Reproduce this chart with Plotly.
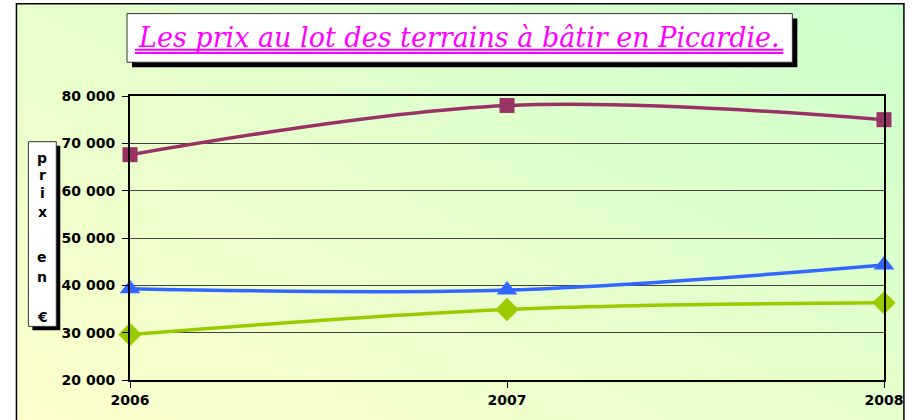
import base64
import plotly.graph_objects as go

years = [2006, 2007, 2008]
serie_violet = [67600, 78000, 75000]
serie_bleu = [39300, 39000, 44300]
serie_vert = [29600, 34900, 36300]
y_ticks = [20000, 30000, 40000, 50000, 60000, 70000, 80000]
title_text = "Les prix au lot des terrains à bâtir en Picardie."
ylabel_letters = ["p", "r", "i", "x", "e", "n", "€"]

W, H = 915, 420
L, R, T, B = 130, 887, 96, 382


def px(x):
    return (x - L) / (R - L)


def py(y):
    return (B - y) / (B - T)


fig = go.Figure()
fig.add_trace(go.Scatter(x=years, y=serie_violet, mode="lines+markers",
                         line=dict(color="#993366", width=3.5, shape="spline"),
                         marker=dict(symbol="square", size=15, color="#993366"),
                         cliponaxis=False, showlegend=False))
fig.add_trace(go.Scatter(x=years, y=serie_bleu, mode="lines+markers",
                         line=dict(color="#3366ff", width=3.5, shape="spline"),
                         marker=dict(symbol="triangle-up", size=18, color="#3366ff"),
                         cliponaxis=False, showlegend=False))
fig.add_trace(go.Scatter(x=years, y=serie_vert, mode="lines+markers",
                         line=dict(color="#99cc00", width=3.5, shape="spline"),
                         marker=dict(symbol="diamond", size=18, color="#99cc00"),
                         cliponaxis=False, showlegend=False))

svg = ('<svg xmlns="http://www.w3.org/2000/svg" width="100" height="100" preserveAspectRatio="none">'
       '<defs><linearGradient id="g" x1="0" y1="1" x2="1" y2="0">'
       '<stop offset="0" stop-color="#ffffcc"/><stop offset="1" stop-color="#ccffcc"/>'
       '</linearGradient></defs><rect width="100" height="100" fill="url(#g)"/></svg>')
src = "data:image/svg+xml;base64," + base64.b64encode(svg.encode()).decode()

fx0, fx1, fy0, fy1 = 16, 907, 3, 440
fig.add_layout_image(dict(source=src, xref="paper", yref="paper",
                          x=px(fx0), y=py(fy0), sizex=px(fx1) - px(fx0), sizey=py(fy0) - py(fy1),
                          xanchor="left", yanchor="top", sizing="stretch", layer="below"))

shapes = []
# outer frame
shapes.append(dict(type="rect", xref="paper", yref="paper", x0=px(fx0), x1=px(fx1), y0=py(fy0), y1=py(fy1),
                   line=dict(color="black", width=1.5), fillcolor="rgba(0,0,0,0)", layer="below"))
# title box
shapes.append(dict(type="rect", xref="paper", yref="paper", x0=px(132), x1=px(800), y0=py(18), y1=py(67),
                   line=dict(width=0), fillcolor="black"))
shapes.append(dict(type="rect", xref="paper", yref="paper", x0=px(127), x1=px(795), y0=py(13), y1=py(62),
                   line=dict(color="#333333", width=1), fillcolor="white"))
for uy in (49.3, 52.6):
    shapes.append(dict(type="line", xref="paper", yref="paper", x0=px(135), x1=px(786), y0=py(uy), y1=py(uy),
                       line=dict(color="#ff00ff", width=2)))
# y label box
shapes.append(dict(type="rect", xref="paper", yref="paper", x0=px(32), x1=px(60), y0=py(146), y1=py(332),
                   line=dict(width=0), fillcolor="black"))
shapes.append(dict(type="rect", xref="paper", yref="paper", x0=px(28), x1=px(56), y0=py(142), y1=py(328),
                   line=dict(color="#333333", width=1), fillcolor="white"))

annotations = [dict(xref="paper", yref="paper", x=px(460.5), y=py(37), xanchor="center", yanchor="middle",
                    text="<i>" + title_text + "</i>", showarrow=False,
                    font=dict(family="DejaVu Serif", size=27, color="#ff00ff"))]
letter_y = [158, 176, 194, 213, 258, 278, 319]
for ch, ly in zip(ylabel_letters, letter_y):
    annotations.append(dict(xref="paper", yref="paper", x=px(42), y=py(ly), xanchor="center", yanchor="middle",
                            text="<b>" + ch + "</b>", showarrow=False,
                            font=dict(family="DejaVu Sans", size=14, color="black")))

fig.update_layout(
    width=W, height=H, autosize=False,
    margin=dict(l=L, r=W - R, t=T, b=H - B, pad=0),
    paper_bgcolor="white", plot_bgcolor="rgba(0,0,0,0)",
    separators=", ",
    shapes=shapes, annotations=annotations,
    xaxis=dict(range=[2006, 2008], tickvals=years, ticktext=[str(y) for y in years],
               showgrid=False, zeroline=False, showline=True, mirror=True, linecolor="black", linewidth=2,
               ticks="outside", ticklen=6, tickcolor="black", tickwidth=1,
               tickfont=dict(family="DejaVu Sans", size=14, color="black", weight="bold")),
    yaxis=dict(range=[20000, 80000], tickvals=y_ticks, tickformat=",d",
               showgrid=True, gridcolor="#404040", gridwidth=1, zeroline=False,
               showline=True, mirror=True, linecolor="black", linewidth=2,
               ticks="outside", ticklen=6, tickcolor="black", tickwidth=1,
               ticklabelstandoff=4,
               tickfont=dict(family="DejaVu Sans", size=14, color="black", weight="bold")),
)

fig.write_html("out.html", config={"displayModeBar": False},
               post_script="document.body.style.margin='0';")
